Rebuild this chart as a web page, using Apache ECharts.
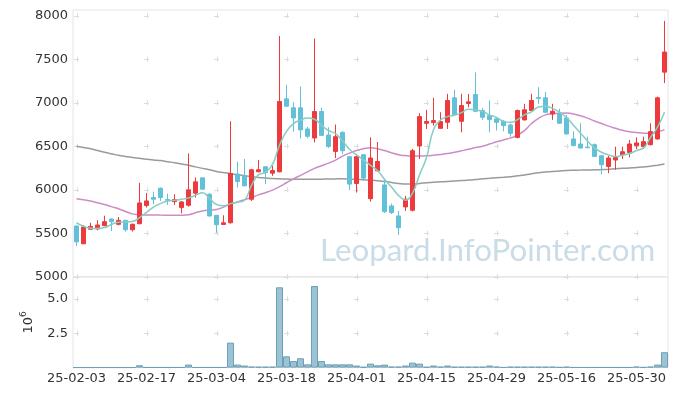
<!DOCTYPE html>
<html><head><meta charset="utf-8">
<script src="https://cdn.jsdelivr.net/npm/echarts@6/dist/echarts.min.js"></script>
<style>html,body{margin:0;padding:0;background:#fff}#c{width:677px;height:396px}</style>
</head><body><div id="c"></div>
<script>
const dates = [
'25-02-03','25-02-04','25-02-05','25-02-06','25-02-07','25-02-10','25-02-11','25-02-12','25-02-13','25-02-14',
'25-02-17','25-02-18','25-02-19','25-02-20','25-02-21','25-02-24','25-02-25','25-02-26','25-02-27','25-02-28',
'25-03-04','25-03-05','25-03-06','25-03-07','25-03-10','25-03-11','25-03-12','25-03-13','25-03-14','25-03-17',
'25-03-18','25-03-19','25-03-20','25-03-21','25-03-24','25-03-25','25-03-26','25-03-27','25-03-28','25-03-31',
'25-04-01','25-04-02','25-04-03','25-04-04','25-04-07','25-04-08','25-04-09','25-04-10','25-04-11','25-04-14',
'25-04-15','25-04-16','25-04-17','25-04-18','25-04-21','25-04-22','25-04-23','25-04-24','25-04-25','25-04-28',
'25-04-29','25-04-30','25-05-02','25-05-07','25-05-08','25-05-09','25-05-12','25-05-13','25-05-14','25-05-15',
'25-05-16','25-05-19','25-05-20','25-05-21','25-05-22','25-05-23','25-05-26','25-05-27','25-05-28','25-05-29',
'25-05-30','25-06-02','25-06-04','25-06-05','25-06-09'];

const opens = [5582,5378,5545,5548,5586,5663,5602,5648,5540,5609,
5817,5910,6017,5886,5863,5794,5821,5960,6136,5948,
5706,5600,5620,6179,6159,5890,6206,6263,6190,6205,
7044,6941,6941,6698,6594,6898,6629,6440,6659,6379,
6071,6402,5897,6217,6055,5813,5698,5802,5764,6502,
6763,6771,6705,6774,7056,6786,6990,7094,6910,6852,
6814,6786,6744,6601,6802,6910,7060,7056,6871,6871,
6825,6583,6525,6490,6517,6390,6267,6341,6402,6428,
6506,6494,6517,6583,7351];
const closes = [5401,5571,5578,5594,5632,5632,5648,5540,5602,5848,
5871,5890,5909,5878,5886,5859,5998,6090,6006,5698,
5597,5620,6186,6094,6044,6229,6229,6197,6220,7013,
6959,6825,6687,6613,6898,6624,6497,6609,6448,6064,
6379,6133,6364,6324,5747,5736,5563,5891,6448,6840,
6783,6794,6782,7025,6863,6967,7010,6901,6832,6806,
6774,6736,6648,6910,6918,7025,7050,6890,6901,6763,
6641,6506,6479,6482,6382,6286,6364,6370,6436,6525,
6537,6552,6667,7056,7582];
const lows = [5351,5375,5540,5533,5582,5525,5590,5517,5520,5602,
5794,5833,5871,5825,5825,5729,5805,5909,6000,5690,
5505,5595,5610,6024,6040,5870,6200,6064,6159,6200,
6950,6667,6590,6590,6544,6620,6480,6364,6410,5994,
5967,6102,5863,6210,5732,5721,5478,5756,5750,6352,
6698,6736,6700,6698,6850,6659,6948,6890,6802,6659,
6679,6671,6609,6590,6795,6900,6987,6880,6802,6755,
6630,6500,6475,6478,6375,6179,6190,6229,6352,6371,
6467,6467,6510,6575,7225];
const highs = [5590,5594,5620,5648,5701,5670,5686,5655,5610,6079,
5963,5978,6025,5955,5948,5870,6417,6140,6140,5960,
5710,5706,6786,6321,6352,6240,6341,6270,6275,7767,
7206,7005,7186,6720,7737,6941,6717,6748,6670,6385,
6390,6410,6601,6548,6110,5840,5756,5929,6470,6878,
6918,7056,6890,7102,7148,7102,7100,7348,6940,7025,
6830,6800,6760,6920,6987,7102,7178,7121,6987,6930,
6860,6671,6763,6609,6530,6400,6390,6494,6494,6571,
6601,6609,6763,7070,7940];

const ma5 = [5620,5580,5558,5555,5565,5600,5625,5630,5635,5680,
5740,5800,5840,5870,5878,5890,5905,5935,5965,5900,
5830,5815,5840,5855,5880,6050,6170,6200,6290,6510,
6670,6760,6800,6825,6810,6740,6680,6645,6560,6465,
6400,6340,6280,6220,6120,6030,5935,5880,5960,6170,
6370,6690,6800,6840,6855,6885,6925,6920,6900,6860,
6830,6785,6775,6805,6860,6895,6950,6960,6935,6890,
6830,6740,6650,6560,6480,6430,6400,6380,6395,6415,
6450,6480,6600,6720,6890];
const ma20 = [5897,5885,5870,5850,5830,5805,5780,5750,5722,5712,
5710,5709,5708,5707,5705,5706,5712,5735,5755,5765,
5772,5800,5835,5860,5885,5910,5940,5965,5995,6035,
6080,6125,6165,6205,6245,6275,6305,6340,6385,6420,
6450,6470,6483,6470,6450,6425,6402,6392,6388,6388,
6390,6397,6405,6415,6430,6447,6465,6485,6500,6525,
6550,6572,6595,6625,6680,6760,6820,6860,6872,6878,
6880,6870,6850,6822,6790,6760,6730,6705,6682,6665,
6658,6650,6650,6665,6690];
const ma120 = [6500,6485,6470,6450,6430,6412,6395,6382,6370,6360,
6350,6342,6335,6322,6310,6295,6280,6262,6245,6228,
6210,6197,6185,6172,6160,6150,6140,6134,6128,6125,
6122,6121,6120,6120,6120,6121,6122,6124,6125,6121,
6118,6114,6110,6103,6095,6083,6070,6066,6065,6072,
6080,6085,6090,6095,6100,6105,6110,6117,6125,6131,
6138,6144,6150,6160,6170,6182,6195,6203,6210,6215,
6220,6223,6225,6227,6228,6231,6235,6240,6245,6250,
6255,6262,6270,6282,6295];

const volumeMillions = [0.01,0.01,0.01,0.01,0.01,0.01,0.01,0.01,0.01,0.17,
0.02,0.02,0.02,0.02,0.02,0.02,0.22,0.02,0.02,0.02,
0.02,0.02,1.82,0.22,0.15,0.07,0.06,0.06,0.06,5.85,
0.82,0.48,0.68,0.24,5.94,0.48,0.24,0.24,0.24,0.24,
0.15,0.05,0.29,0.17,0.22,0.07,0.07,0.15,0.36,0.29,
0.05,0.15,0.07,0.15,0.06,0.06,0.06,0.06,0.06,0.15,
0.07,0.02,0.06,0.06,0.06,0.06,0.06,0.06,0.06,0.03,
0.06,0.02,0.02,0.02,0.02,0.02,0.02,0.02,0.02,0.02,
0.07,0.03,0.07,0.22,1.12];

const priceTicks = [5000,5500,6000,6500,7000,7500,8000];
const volumeTicks = [2.5,5.0];
const labelEvery = 10;

const UP = '#ec3a3d', DOWN = '#62c0d8';
const FONT = 'DejaVu Sans';

const candleData = dates.map((d, i) => [opens[i], closes[i], lows[i], highs[i]]);
const tickCats = dates.map((d, i) => i).filter(i => i % labelEvery === 0);
const crossPrice = [];
tickCats.forEach(c => priceTicks.forEach(p => crossPrice.push([c, p])));
const crossVol = [];
tickCats.forEach(c => volumeTicks.forEach(v => crossVol.push([c, v])));

function crossRender(params, api) {
  const pt = api.coord([api.value(0), api.value(1)]);
  const s = 2.5;
  const st = { stroke: '#dcdcdc', lineWidth: 1 };
  return { type: 'group', children: [
    { type: 'line', shape: { x1: pt[0] - s, y1: Math.round(pt[1]) + 0.5, x2: pt[0] + s, y2: Math.round(pt[1]) + 0.5 }, style: st },
    { type: 'line', shape: { x1: Math.round(pt[0]) + 0.5, y1: pt[1] - s, x2: Math.round(pt[0]) + 0.5, y2: pt[1] + s }, style: st }
  ]};
}

const chart = echarts.init(document.getElementById('c'), null, { renderer: 'canvas' });
chart.setOption({
  animation: false,
  backgroundColor: '#fff',
  textStyle: { fontFamily: FONT },
  grid: [
    { left: 73, right: 9, top: 10, height: 266.7, show: true, borderColor: '#e4e4e4', borderWidth: 1, backgroundColor: 'transparent' },
    { left: 73, right: 9, top: 277, height: 90.6, show: true, borderColor: '#e4e4e4', borderWidth: 1, backgroundColor: 'transparent' }
  ],
  graphic: [{
    type: 'text', left: 320, top: 235, z: -10, silent: true,
    style: { text: 'Leopard.InfoPointer.com', fontFamily: 'Lato', fontSize: 31.3, fill: '#c9dce7' }
  }],
  xAxis: [
    { type: 'category', gridIndex: 0, data: dates, boundaryGap: true,
      axisLine: { show: false }, axisTick: { show: false }, axisLabel: { show: false }, splitLine: { show: false } },
    { type: 'category', gridIndex: 1, data: dates, boundaryGap: true,
      axisLine: { show: false }, axisTick: { show: false }, splitLine: { show: false },
      axisLabel: { interval: labelEvery - 1, color: '#333', fontSize: 13, fontFamily: FONT, margin: 5 } }
  ],
  yAxis: [
    { type: 'value', gridIndex: 0, min: 5000, max: 8065, interval: 500, scale: false,
      axisLine: { show: false }, axisTick: { show: false }, splitLine: { show: false },
      axisLabel: { color: '#333', fontSize: 13, fontFamily: FONT, margin: 5, showMaxLabel: false,
        formatter: v => String(v) } },
    { type: 'value', gridIndex: 1, min: 0, max: 6.6, interval: 2.5,
      axisLine: { show: false }, axisTick: { show: false }, splitLine: { show: false },
      axisLabel: { color: '#333', fontSize: 13, fontFamily: FONT, margin: 5, showMinLabel: false, showMaxLabel: false,
        formatter: v => v.toFixed(1) },
      name: '{b|10}{s|6}', nameLocation: 'middle', nameRotate: 90, nameGap: 36,
      nameTextStyle: { rich: {
        b: { fontSize: 13, color: '#333', fontFamily: FONT, lineHeight: 16, verticalAlign: 'bottom' },
        s: { fontSize: 9, color: '#333', fontFamily: FONT, lineHeight: 16, verticalAlign: 'top', padding: [0,0,8,0] }
      } } }
  ],
  series: [
    { type: 'custom', xAxisIndex: 0, yAxisIndex: 0, data: crossPrice, renderItem: crossRender, silent: true, z: 0, clip: false },
    { type: 'custom', xAxisIndex: 1, yAxisIndex: 1, data: crossVol, renderItem: crossRender, silent: true, z: 0, clip: false },
    { type: 'line', xAxisIndex: 0, yAxisIndex: 0, data: ma120, smooth: true, symbol: 'none',
      lineStyle: { color: '#9a9a9a', width: 1.5 }, z: 2 },
    { type: 'line', xAxisIndex: 0, yAxisIndex: 0, data: ma20, smooth: true, symbol: 'none',
      lineStyle: { color: '#cc8cc6', width: 1.5 }, z: 2 },
    { type: 'candlestick', xAxisIndex: 0, yAxisIndex: 0, data: candleData, barWidth: '70%',
      itemStyle: { color: UP, color0: DOWN, borderColor: UP, borderColor0: DOWN, borderWidth: 1 }, z: 3 },
    { type: 'line', xAxisIndex: 0, yAxisIndex: 0, data: ma5, smooth: true, symbol: 'none',
      lineStyle: { color: '#86cdc2', width: 1.5 }, z: 4 },
    { type: 'bar', xAxisIndex: 1, yAxisIndex: 1, data: volumeMillions, barCategoryGap: '0%',
      itemStyle: { color: '#9ac3d3', borderColor: '#6e9fb6', borderWidth: 1 }, z: 3 }
  ]
});
</script></body></html>
